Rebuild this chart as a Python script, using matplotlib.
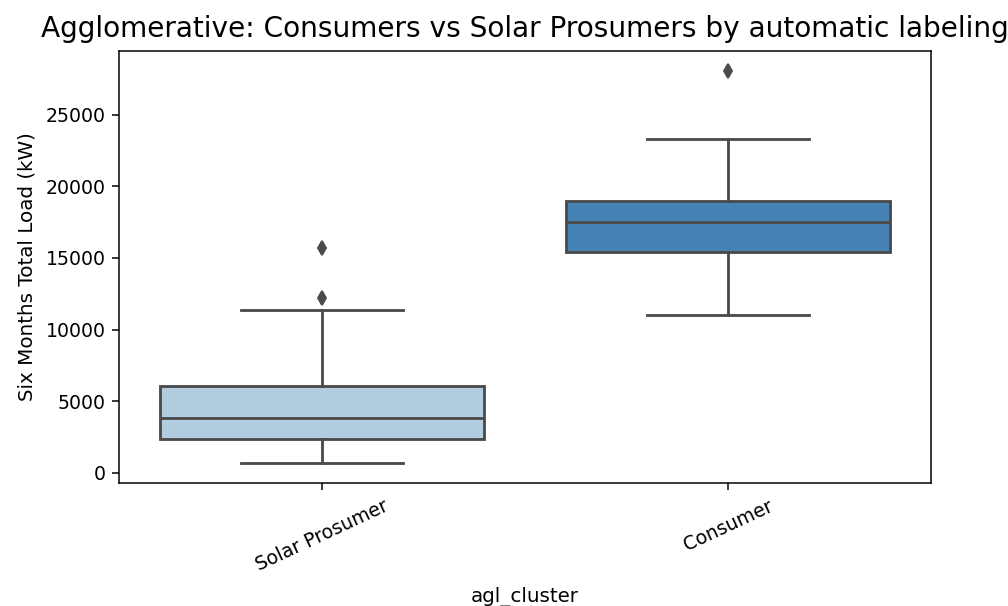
import matplotlib
matplotlib.use("Agg")
import matplotlib.pyplot as plt

# per-cluster box statistics for six months total load (kW)
categories = ["Solar Prosumer", "Consumer"]
whislo = [660, 11020]
q1 = [2330, 15440]
med = [3840, 17520]
q3 = [6060, 18940]
whishi = [11350, 23320]
fliers = [[12190, 15680], [28070]]

box_colors = ["#b3cde0", "#4682b4"]
line_color = "#4b4b4b"

stats = []
for i, name in enumerate(categories):
    stats.append({
        "label": name,
        "whislo": whislo[i],
        "q1": q1[i],
        "med": med[i],
        "q3": q3[i],
        "whishi": whishi[i],
        "fliers": fliers[i],
    })

fig = plt.figure(figsize=(1008 / 136, 606 / 136), dpi=136)
ax = fig.add_axes([119 / 1008, 1 - 483 / 606, (931 - 119) / 1008, (483 - 51) / 606])

lw = 1.5
bp = ax.bxp(
    stats,
    positions=range(len(categories)),
    widths=0.8,
    patch_artist=True,
    boxprops=dict(edgecolor=line_color, linewidth=lw),
    medianprops=dict(color=line_color, linewidth=lw),
    whiskerprops=dict(color=line_color, linewidth=lw),
    capprops=dict(color=line_color, linewidth=lw),
    flierprops=dict(marker="d", markerfacecolor=line_color, markeredgecolor=line_color,
                    markersize=5, linestyle="none"),
)
for patch, c in zip(bp["boxes"], box_colors):
    patch.set_facecolor(c)

ax.set_xlim(-0.5, len(categories) - 0.5)
ax.set_xticks(range(len(categories)))
ax.set_xticklabels(categories, rotation=25)
ax.set_xlabel("agl_cluster", fontsize=10.5, labelpad=6.5)
ax.set_ylabel("Six Months Total Load (kW)", fontsize=10.5, labelpad=5)
ax.set_title("Agglomerative: Consumers vs Solar Prosumers by automatic labeling",
             fontsize=14.8, pad=7.5)

fig.savefig("out.png", dpi=136)
